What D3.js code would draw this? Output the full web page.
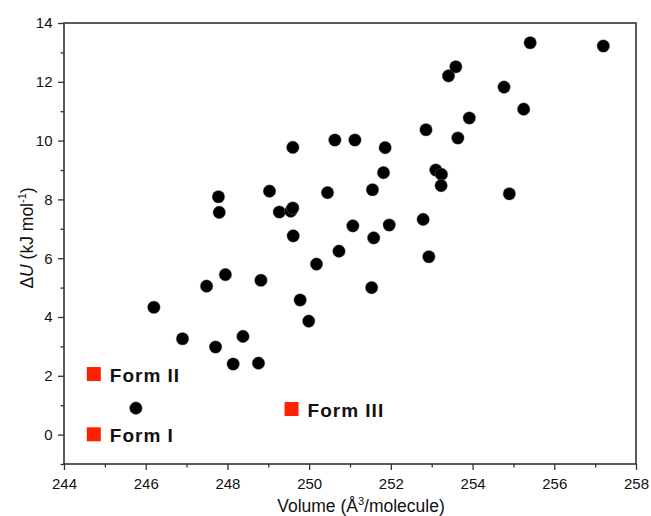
<!DOCTYPE html>
<html><head><meta charset="utf-8">
<script src="https://cdn.jsdelivr.net/npm/d3@7"></script>
<style>body{margin:0;background:#fff}svg{display:block;font-family:"Liberation Sans",Arial,sans-serif}</style>
</head><body>
<svg id="c" width="651" height="516"></svg>
<script>
const volumes = [245.76,246.20,246.90,247.49,247.71,247.95,248.14,248.38,248.76,248.82,247.78,247.80,249.03,249.27,249.55,249.60,249.60,249.61,249.78,249.99,250.18,250.45,250.63,251.12,250.73,251.07,251.55,251.53,251.58,251.82,251.86,251.96,252.79,252.86,252.93,253.10,253.24,253.23,253.41,253.59,253.64,253.92,254.77,254.90,255.25,255.41,257.20];
const deltaU  = [0.90,4.33,3.26,5.05,2.98,5.44,2.40,3.34,2.43,5.25,8.09,7.56,8.28,7.57,7.60,7.71,9.77,6.76,4.58,3.86,5.80,8.23,10.02,10.02,6.24,7.10,8.33,5.00,6.69,8.91,9.76,7.13,7.32,10.37,6.05,9.00,8.85,8.47,12.20,12.51,10.09,10.77,11.82,8.19,11.07,13.33,13.22];
const formNames = ["Form I","Form II","Form III"];
const formVolumes = [244.73,244.73,249.57];
const formDeltaU = [0.01,2.06,0.87];
const xMajorTicks = [244,246,248,250,252,254,256,258];
const yMajorTicks = [0,2,4,6,8,10,12,14];

const svg = d3.select("#c");
const L=64,R=636,T=23,B=464;
const x = d3.scaleLinear().domain([244,258]).range([L,R]);
const y = d3.scaleLinear().domain([-1,14]).range([B,T]);

// minor ticks
const xMinor = d3.range(245,258,2), yMinor = d3.range(-1,14,2);
const gx = svg.append("g").attr("transform",`translate(0,${B})`);
gx.call(d3.axisBottom(x).tickValues(xMinor).tickSize(3.5).tickFormat(""));
const gx2 = svg.append("g").attr("transform",`translate(0,${B})`);
gx2.call(d3.axisBottom(x).tickValues(xMajorTicks).tickSize(6).tickPadding(8.5).tickFormat(d3.format("d")));
const gy = svg.append("g").attr("transform",`translate(${L},0)`);
gy.call(d3.axisLeft(y).tickValues(yMinor).tickSize(3.5).tickFormat(""));
const gy2 = svg.append("g").attr("transform",`translate(${L},0)`);
gy2.call(d3.axisLeft(y).tickValues(yMajorTicks).tickSize(6).tickPadding(5.5).tickFormat(d3.format("d")));
[gx,gx2,gy,gy2].forEach(g=>{
  g.select(".domain").remove();
  g.selectAll("line").attr("stroke","#333").attr("stroke-width",1.3);
  g.selectAll("text").attr("font-size",15).attr("fill","#111").attr("font-family","Liberation Sans, Arial, sans-serif");
});
// frame
svg.append("rect").attr("x",L).attr("y",T).attr("width",R-L).attr("height",B-T)
  .attr("fill","none").attr("stroke","#333").attr("stroke-width",1.6);

// points
svg.append("g").selectAll("circle").data(volumes.map((v,i)=>[v,deltaU[i]])).join("circle")
  .attr("cx",d=>x(d[0])).attr("cy",d=>y(d[1])).attr("r",6.3)
  .attr("fill","#000").attr("stroke","#777").attr("stroke-width",0.4);

// forms
const fg = svg.append("g").selectAll("g").data(formNames.map((n,i)=>({n,v:formVolumes[i],u:formDeltaU[i]}))).join("g");
const s=14;
fg.append("rect").attr("x",d=>x(d.v)-s/2).attr("y",d=>y(d.u)-s/2).attr("width",s).attr("height",s).attr("fill","#ff2000");
fg.append("text").attr("x",d=>x(d.v)+s/2+9).attr("y",d=>y(d.u)+8)
  .attr("font-size",19).attr("letter-spacing",1).attr("font-weight","bold").attr("fill","#111").text(d=>d.n);

// axis titles
const xt = svg.append("text").attr("x",361).attr("y",512).attr("text-anchor","middle").attr("font-size",17.5).attr("fill","#111");
xt.append("tspan").text("Volume (Å");
xt.append("tspan").attr("font-size",11).attr("dy",-7).text("3");
xt.append("tspan").attr("dy",7).text("/molecule)");

const yt = svg.append("text").attr("transform","translate(33,238) rotate(-90)").attr("text-anchor","middle").attr("font-size",17.5).attr("fill","#111");
yt.append("tspan").text("Δ");
yt.append("tspan").attr("font-style","italic").text("U");
yt.append("tspan").text(" (kJ mol");
yt.append("tspan").attr("font-size",11).attr("dy",-7).text("-1");
yt.append("tspan").attr("dy",7).text(")");
</script>
</body></html>
